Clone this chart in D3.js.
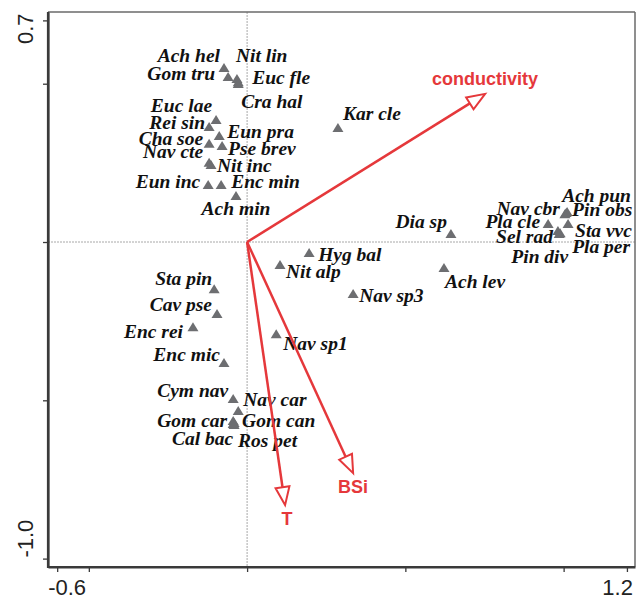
<!DOCTYPE html>
<html>
<head>
<meta charset="utf-8">
<script src="https://cdn.jsdelivr.net/npm/d3@7"></script>
<style>
  html, body { margin: 0; padding: 0; background: #fff; }
  svg { display: block; }
</style>
</head>
<body>
<svg id="chart" width="638" height="601"></svg>
<script>
// Species scores on ordination axes 1 and 2
const species = ["Ach hel","Gom tru","Nit lin","Euc fle","Cra hal","Euc lae","Rei sin","Eun pra","Cha soe","Pse brev",
  "Nav cte","Nit inc","Eun inc","Enc min","Ach min","Kar cle","Dia sp","Ach lev","Hyg bal","Nit alp",
  "Nav sp3","Nav sp1","Sta pin","Cav pse","Enc rei","Enc mic","Ach pun","Nav cbr","Pin obs","Pla cle",
  "Sta vvc","Sel rad","Pla per","Pin div","Cym nav","Nav car","Gom car","Gom can","Cal bac","Ros pet"];
const axis1 = [-0.073,-0.060,-0.032,-0.028,-0.028,-0.098,-0.120,-0.088,-0.120,-0.079,
  -0.120,-0.114,-0.123,-0.082,-0.035,0.287,0.644,0.622,0.196,0.104,
  0.335,0.092,-0.104,-0.095,-0.171,-0.073,1.008,1.004,1.011,0.951,
  1.014,0.982,0.989,0.986,-0.044,-0.028,-0.044,-0.041,-0.044,-0.041];
const axis2 = [0.550,0.521,0.515,0.505,0.499,0.385,0.363,0.335,0.310,0.303,
  0.250,0.243,0.180,0.180,0.145,0.360,0.025,-0.082,-0.035,-0.073,
  -0.164,-0.291,-0.149,-0.227,-0.269,-0.382,0.092,0.088,0.095,0.057,
  0.057,0.035,0.028,0.025,-0.496,-0.534,-0.565,-0.572,-0.575,-0.578];

// Environmental variables (biplot arrows)
const envNames = ["conductivity","T","BSi"];
const envAxis1 = [0.752, 0.120, 0.335];
const envAxis2 = [0.468, -0.831, -0.730];

// Axis ticks
const xTicks = [-0.6, -0.5, 0, 0.5, 1.0, 1.2];
const yTicks = [-1.0, -0.5, 0, 0.5, 0.7];
const xTickLabels = ["-0.6", "1.2"];
const yTickLabels = ["0.7", "-1.0"];

// Label placement for each species: [anchor, dx, dy] in pixels from its marker
const labelPlacement = [
  ["end",-4,-6],["end",-13,3],["start",-1,-17],["start",14,2],["start",3,24],
  ["end",-4,-8],["end",-4,2],["start",8,2],["end",-6,1],["start",6,9],
  ["end",-6,-5],["start",6,7],["end",-8,3],["start",10,3],["middle",0,19],
  ["start",5,-8],["end",-4,-6],["start",1,20],["start",9,8],["start",6,13],
  ["start",6,8],["start",7,16],["end",-2,-4],["end",-5,-3],["end",-10,11],
  ["end",-4,-2],["start",-4,-11],["end",-5,1],["start",5,4],["end",-8,4],
  ["start",7,13],["end",-5,12],["start",12,20],["end",9,29],["end",-5,-2],
  ["start",5,-5],["end",-6,6],["start",8,4],["end",0,21],["start",4,22]
];

const svg = d3.select("#chart");
const plotLeft = 48, plotRight = 635, plotTop = 12, plotBottom = 567;

const x = d3.scaleLinear().domain([-0.629, 1.2255]).range([plotLeft, plotRight]);
const y = d3.scaleLinear().domain([-1.0265, 0.7265]).range([plotBottom, plotTop]);

const red = "#e5383b";

// zero lines
svg.append("line").attr("x1", x(0)).attr("x2", x(0)).attr("y1", plotTop).attr("y2", plotBottom)
  .attr("stroke", "#a8a8a8").attr("stroke-width", 1).attr("stroke-dasharray", "2,1");
svg.append("line").attr("x1", plotLeft).attr("x2", plotRight).attr("y1", y(0)).attr("y2", y(0))
  .attr("stroke", "#a8a8a8").attr("stroke-width", 1).attr("stroke-dasharray", "2,1");

// frame: top and right
svg.append("line").attr("x1", plotLeft).attr("x2", plotRight).attr("y1", plotTop).attr("y2", plotTop)
  .attr("stroke", "#6a6a6a").attr("stroke-width", 1.5);
svg.append("line").attr("x1", plotRight).attr("x2", plotRight).attr("y1", plotTop).attr("y2", plotBottom)
  .attr("stroke", "#6a6a6a").attr("stroke-width", 1.5);

// axes
const xAxis = svg.append("g").attr("transform", `translate(0,${plotBottom})`)
  .call(d3.axisBottom(x).tickValues(xTicks).tickSize(5).tickSizeOuter(0).tickFormat(""));
const yAxis = svg.append("g").attr("transform", `translate(${plotLeft},0)`)
  .call(d3.axisLeft(y).tickValues(yTicks).tickSize(5).tickSizeOuter(0).tickFormat(""));
[xAxis, yAxis].forEach(g => {
  g.select(".domain").attr("stroke", "#3a3a3a").attr("stroke-width", 2.2);
  g.selectAll(".tick line").attr("stroke", "#3a3a3a").attr("stroke-width", 1.3);
});
// extend the axis lines to meet at the corner
svg.append("line").attr("x1", plotLeft - 1).attr("x2", plotRight).attr("y1", plotBottom).attr("y2", plotBottom)
  .attr("stroke", "#3a3a3a").attr("stroke-width", 2.2);
svg.append("line").attr("x1", plotLeft).attr("x2", plotLeft).attr("y1", plotTop).attr("y2", plotBottom + 1)
  .attr("stroke", "#3a3a3a").attr("stroke-width", 2.2);

const tickFont = "'Liberation Sans', Arial, Helvetica, sans-serif";
svg.append("text").attr("x", x(-0.6) - 9).attr("y", 595).attr("text-anchor", "start")
  .attr("font-family", tickFont).attr("font-size", 22).attr("fill", "#222").text(xTickLabels[0]);
svg.append("text").attr("x", x(1.2) + 6).attr("y", 595).attr("text-anchor", "end")
  .attr("font-family", tickFont).attr("font-size", 22).attr("fill", "#222").text(xTickLabels[1]);
svg.append("text").attr("transform", `translate(33,${y(0.7) - 7}) rotate(-90)`).attr("text-anchor", "end")
  .attr("font-family", tickFont).attr("font-size", 22).attr("fill", "#222").text(yTickLabels[0]);
svg.append("text").attr("transform", `translate(33,${y(-1.0) - 1}) rotate(-90)`).attr("text-anchor", "start")
  .attr("font-family", tickFont).attr("font-size", 22).attr("fill", "#222").text(yTickLabels[1]);

// species markers
const tri = "M0,-5L5.5,4L-5.5,4Z";
const spData = species.map((s, i) => ({ name: s, a1: axis1[i], a2: axis2[i], p: labelPlacement[i] }));
svg.append("g").selectAll("path").data(spData).join("path")
  .attr("d", tri)
  .attr("transform", d => `translate(${x(d.a1)},${y(d.a2)})`)
  .attr("fill", "#6d6e71");

// species labels
svg.append("g").selectAll("text").data(spData).join("text")
  .attr("x", d => x(d.a1) + d.p[1])
  .attr("y", d => y(d.a2) + d.p[2])
  .attr("text-anchor", d => d.p[0])
  .attr("font-family", "'Liberation Serif', 'Times New Roman', serif")
  .attr("font-weight", "bold").attr("font-style", "italic")
  .attr("font-size", 19.5).attr("fill", "#111")
  .text(d => d.name);

// environmental arrows
const envData = envNames.map((n, i) => ({ name: n, a1: envAxis1[i], a2: envAxis2[i] }));
const ox = x(0), oy = y(0);
const arrows = svg.append("g");
envData.forEach(d => {
  const tx = x(d.a1), ty = y(d.a2);
  const ang = Math.atan2(ty - oy, tx - ox);
  const L = 18, hw = 7;
  const bx = tx - L * Math.cos(ang), by = ty - L * Math.sin(ang);
  const px = -Math.sin(ang) * hw, py = Math.cos(ang) * hw;
  arrows.append("line").attr("x1", ox).attr("y1", oy).attr("x2", bx).attr("y2", by)
    .attr("stroke", red).attr("stroke-width", 2.5);
  arrows.append("path")
    .attr("d", `M${tx},${ty}L${bx + px},${by + py}L${bx - px},${by - py}Z`)
    .attr("fill", "#fff").attr("stroke", red).attr("stroke-width", 2).attr("stroke-linejoin", "miter");
});

// arrow labels
const envLabelOffset = { "conductivity": [0, -9], "T": [2, 20], "BSi": [0, 20] };
svg.append("g").selectAll("text").data(envData).join("text")
  .attr("x", d => x(d.a1) + envLabelOffset[d.name][0])
  .attr("y", d => y(d.a2) + envLabelOffset[d.name][1])
  .attr("text-anchor", "middle")
  .attr("font-family", tickFont).attr("font-weight", "bold")
  .attr("font-size", 18).attr("fill", red)
  .text(d => d.name);
</script>
</body>
</html>
